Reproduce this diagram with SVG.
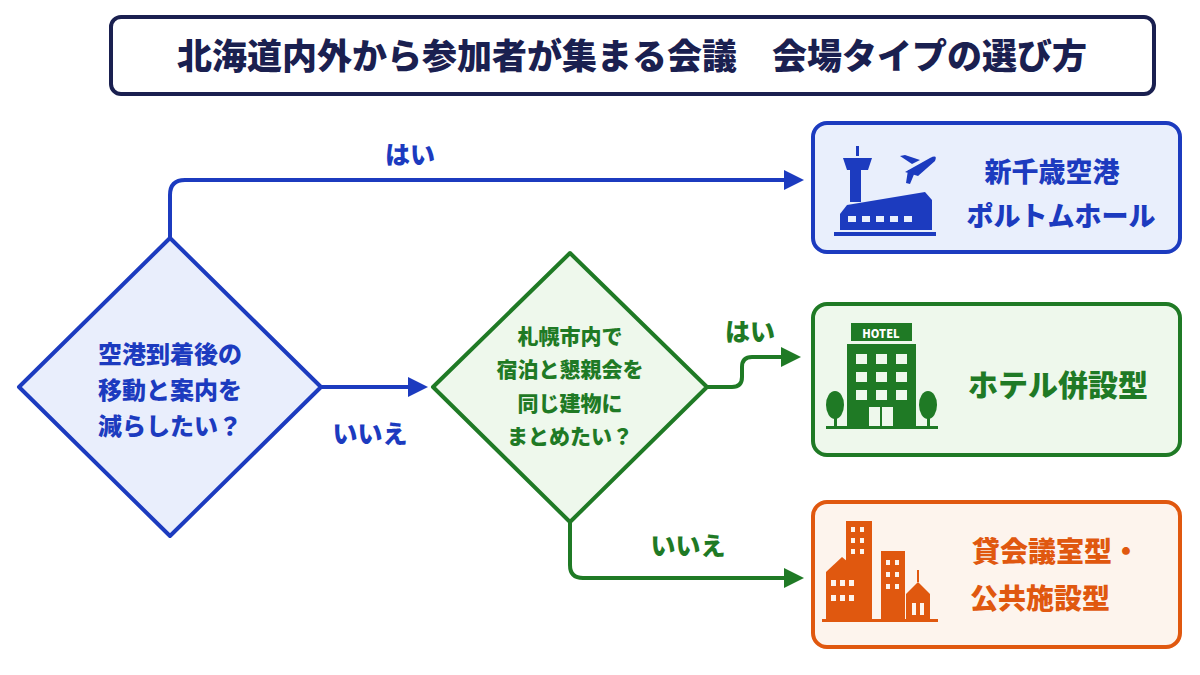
<svg xmlns="http://www.w3.org/2000/svg" width="1200" height="675" viewBox="0 0 1200 675">
<defs>
<style>
text{font-family:"Noto Sans CJK JP","Noto Sans",sans-serif;font-weight:900;text-anchor:middle}
.b{fill:#1c3bbf}.g{fill:#1f7a25}.o{fill:#e0580f}
.lb{stroke:#1c3bbf}.lg{stroke:#1f7a25}
.conn{fill:none;stroke-width:4;stroke-linejoin:round}
</style>
<marker id="ab" viewBox="0 0 10 10" refX="8" refY="5" markerWidth="5" markerHeight="5" orient="auto"><path d="M0,0 L10,5 L0,10 z" fill="#1c3bbf"/></marker>
<marker id="ag" viewBox="0 0 10 10" refX="8" refY="5" markerWidth="5" markerHeight="5" orient="auto"><path d="M0,0 L10,5 L0,10 z" fill="#1f7a25"/></marker>
</defs>
<rect width="1200" height="675" fill="#fff"/>
<g id="title">
<rect x="111" y="17" width="1043" height="77" rx="10" fill="#fff" stroke="#1a2050" stroke-width="4"/>
<text x="632" y="69" font-size="35" fill="#1a2050">北海道内外から参加者が集まる会議　会場タイプの選び方</text>
</g>
<g id="connectors">
<path class="conn lb" d="M170,238 V195 Q170,180 185,180 H800" marker-end="url(#ab)"/>
<path class="conn lb" d="M322,387 H424" marker-end="url(#ab)"/>
<path class="conn lg" d="M708,387 H732 Q742,387 742,377 V367 Q742,357 752,357 H797" marker-end="url(#ag)"/>
<path class="conn lg" d="M570,523 V565 Q570,578 583,578 H800" marker-end="url(#ag)"/>
<text x="410" y="164" font-size="25" class="b">はい</text>
<text x="370" y="443" font-size="25" class="b">いいえ</text>
<text x="750" y="341" font-size="25" class="g">はい</text>
<text x="688" y="555" font-size="25" class="g">いいえ</text>
</g>
<g id="d1">
<path d="M170,238 L321,387 L170,536 L19,387 Z" fill="#e9eefc" stroke="#1c3bbf" stroke-width="4" stroke-linejoin="round"/>
<text x="170" y="363" font-size="24" class="b">空港到着後の</text>
<text x="170" y="399" font-size="24" class="b">移動と案内を</text>
<text x="170" y="435" font-size="24" class="b">減らしたい？</text>
</g>
<g id="d2">
<path d="M570,253 L707,387 L570,522 L433,387 Z" fill="#eef8ec" stroke="#1f7a25" stroke-width="4" stroke-linejoin="round"/>
<text x="570" y="344" font-size="21" class="g">札幌市内で</text>
<text x="570" y="377" font-size="21" class="g">宿泊と懇親会を</text>
<text x="570" y="411" font-size="21" class="g">同じ建物に</text>
<text x="570" y="444" font-size="21" class="g">まとめたい？</text>
</g>
<g id="n1">
<rect x="813" y="123" width="367" height="129" rx="14" fill="#e9effc" stroke="#1c3bbf" stroke-width="4"/>
<g class="b">
<rect x="856" y="146" width="3" height="10"/>
<path d="M843,158 H872 L868,170 H847 Z"/>
<rect x="850" y="170" width="11" height="32"/>
<path d="M847,205 L925,192 L932,200 V230 H840 V214 Z"/>
<rect x="834" y="232" width="102" height="4"/>
<path d="M905,172 L930,158 Q938,154 935,161 L918,176 Z M912,164 L900,156 L905,155 L920,160 Z M915,172 L910,184 L906,183 L908,170 Z"/>
</g>
<g fill="#e9effc"><rect x="848" y="216" width="8" height="6"/><rect x="862" y="216" width="8" height="6"/><rect x="876" y="216" width="8" height="6"/><rect x="890" y="216" width="8" height="6"/><rect x="904" y="216" width="8" height="6"/></g>
<text x="1052" y="182" font-size="27" class="b">新千歳空港</text>
<text x="1061" y="226" font-size="27" class="b">ポルトムホール</text>
</g>
<g id="n2">
<rect x="813" y="304" width="367" height="151" rx="14" fill="#eef8ec" stroke="#1f7a25" stroke-width="4"/>
<g class="g">
<rect x="851" y="323" width="61" height="18"/>
<rect x="847" y="344" width="69" height="84"/>
<rect x="826" y="426" width="112" height="3"/>
<ellipse cx="835" cy="405" rx="9" ry="14"/><rect x="834" y="410" width="3" height="17"/>
<ellipse cx="928" cy="405" rx="9" ry="14"/><rect x="927" y="410" width="3" height="17"/>
</g>
<text x="881" y="338" font-size="11" fill="#fff" font-family="Liberation Sans,sans-serif">HOTEL</text>
<g fill="#eef8ec">
<rect x="856" y="354" width="11" height="10"/><rect x="876" y="354" width="11" height="10"/><rect x="896" y="354" width="11" height="10"/>
<rect x="856" y="372" width="11" height="10"/><rect x="876" y="372" width="11" height="10"/><rect x="896" y="372" width="11" height="10"/>
<rect x="856" y="390" width="11" height="10"/><rect x="876" y="390" width="11" height="10"/><rect x="896" y="390" width="11" height="10"/>
<rect x="869" y="407" width="11" height="19"/><rect x="882" y="407" width="11" height="19"/>
</g>
<text x="1058" y="396" font-size="30" class="g">ホテル併設型</text>
</g>
<g id="n3">
<rect x="813" y="502" width="367" height="145" rx="14" fill="#fdf4ed" stroke="#e0580f" stroke-width="4"/>
<g class="o">
<rect x="846" y="521" width="26" height="100"/>
<rect x="881" y="551" width="24" height="70"/>
<path d="M826,572 L842,557 L860,572 V621 H826 Z"/>
<path d="M906,594 L918,582 L930,594 V621 H906 Z"/>
<rect x="917" y="570" width="2" height="12"/>
<rect x="822" y="619" width="116" height="3"/>
</g>
<g fill="#fdf4ed">
<rect x="851" y="527" width="4" height="5"/><rect x="860" y="527" width="4" height="5"/>
<rect x="851" y="538" width="4" height="5"/><rect x="860" y="538" width="4" height="5"/>
<rect x="851" y="549" width="4" height="5"/><rect x="860" y="549" width="4" height="5"/>
<rect x="886" y="560" width="4" height="5"/><rect x="895" y="560" width="4" height="5"/>
<rect x="886" y="572" width="4" height="5"/><rect x="895" y="572" width="4" height="5"/>
<rect x="886" y="584" width="4" height="5"/><rect x="895" y="584" width="4" height="5"/>
<rect x="831" y="580" width="5" height="6"/><rect x="840" y="580" width="5" height="6"/><rect x="849" y="580" width="5" height="6"/>
<rect x="831" y="595" width="5" height="6"/><rect x="840" y="595" width="5" height="6"/><rect x="849" y="595" width="5" height="6"/>
<rect x="912" y="603" width="4" height="12"/><rect x="920" y="603" width="4" height="12"/>
</g>
<text x="1056" y="562" font-size="28" class="o">貸会議室型・</text>
<text x="1040" y="609" font-size="28" class="o">公共施設型</text>
</g>
</svg>
